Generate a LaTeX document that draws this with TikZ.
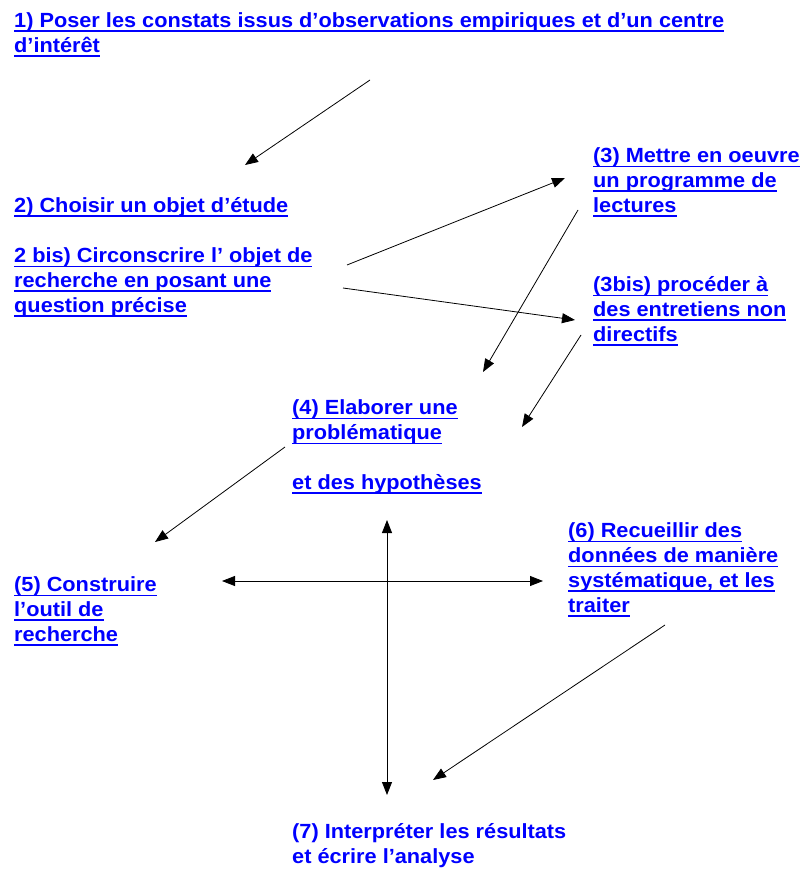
\documentclass[tikz,border=0pt]{standalone}
\usepackage{fontspec}
\setmainfont{Liberation Sans}[FakeStretch=1.06]
\usepackage{tikz}
\usetikzlibrary{arrows.meta}
\newsavebox{\boitelien}
\newcommand{\lien}[1]{\sbox{\boitelien}{#1}\rlap{\rule[-4.5pt]{\wd\boitelien}{1.6pt}}\usebox{\boitelien}}

\begin{document}
\begin{tikzpicture}[x=1pt,y=-1pt]%
  \tikzstyle{etape}=[anchor=base west,align=left,inner sep=0,text=blue,
    font=\bfseries\fontsize{20.5}{24.7}\selectfont]
  \tikzstyle{fleche}=[draw,line width=0.8pt,-{Triangle[length=13pt,width=10pt]}]
  \tikzstyle{croix}=[draw,line width=0.8pt,{Triangle[length=13pt,width=10pt]}-{Triangle[length=13pt,width=10pt]}]
  \useasboundingbox (0,0) rectangle (803,870);
  % les noeuds sont places par la ligne de base de leur derniere ligne
  \node(1)[etape] at (14,52){\lien{1) Poser les constats issus d'observations empiriques et d'un centre}\\
    \lien{d'intérêt}};
  \node(2)[etape] at (14,212){\lien{2) Choisir un objet d'étude}};
  \node(2b)[etape] at (14,312){\lien{2 bis) Circonscrire l' objet de}\\
    \lien{recherche en posant une}\\ \lien{question précise}};
  \node(3)[etape] at (593,212){\lien{(3) Mettre en oeuvre}\\ \lien{un programme de}\\ \lien{lectures}};
  \node(3b)[etape] at (593,341){\lien{(3bis) procéder à}\\ \lien{des entretiens non}\\ \lien{directifs}};
  \node(4)[etape] at (292,489){\lien{(4) Elaborer une}\\ \lien{problématique}\\[24.7pt]
    \lien{et des hypothèses}};
  \node(5)[etape] at (14,641){\lien{(5) Construire}\\ \lien{l'outil de}\\ \lien{recherche}};
  \node(6)[etape] at (568,612){\lien{(6) Recueillir des}\\ \lien{données de manière}\\
    \lien{systématique, et les}\\ \lien{traiter}};
  \node(7)[etape] at (292,863){(7) Interpréter les résultats\\ et écrire l'analyse};
  % extremites des fleches
  \coordinate(1d) at (370,80);   \coordinate(2a) at (245,165);
  \coordinate(2bh) at (347,265); \coordinate(3a) at (565,178);
  \coordinate(2bb) at (343,288); \coordinate(3ba) at (575,320);
  \coordinate(3d) at (578,210);  \coordinate(4a) at (483,372);
  \coordinate(3bd) at (581,335); \coordinate(4b) at (522,427);
  \coordinate(4d) at (285,447);  \coordinate(5a) at (155,542);
  \coordinate(6d) at (665,625);  \coordinate(7a) at (433,780);
  \coordinate(o) at (222,581);   \coordinate(e) at (543,581);
  \coordinate(h) at (387,520);   \coordinate(b) at (387,795);
  \draw[fleche] (1d) -- (2a);
  \draw[fleche] (2bh) -- (3a);
  \draw[fleche] (2bb) -- (3ba);
  \draw[fleche] (3d) -- (4a);
  \draw[fleche] (3bd) -- (4b);
  \draw[fleche] (4d) -- (5a);
  \draw[fleche] (6d) -- (7a);
  \draw[croix] (o) -- (e);
  \draw[croix] (h) -- (b);
\end{tikzpicture}
\end{document}
